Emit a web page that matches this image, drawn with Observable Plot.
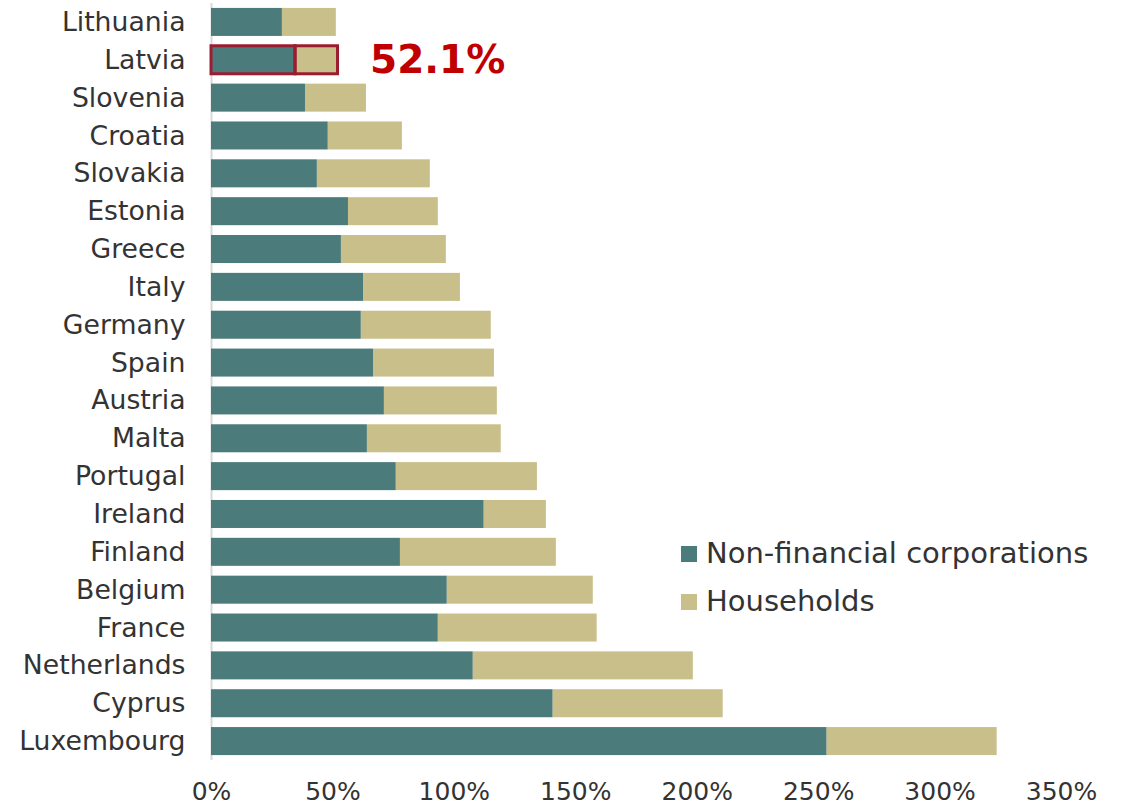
<!DOCTYPE html>
<html>
<head>
<meta charset="utf-8">
<script src="https://cdn.jsdelivr.net/npm/d3@7"></script>
<script src="https://cdn.jsdelivr.net/npm/@observablehq/plot@0.6"></script>
<style>
  html, body { margin: 0; padding: 0; background: #fff; }
  #wrap { position: relative; width: 1132px; height: 808px; font-family: "DejaVu Sans", Verdana, sans-serif; }
  #legend { position: absolute; left: 681px; top: 529px; font-size: 29px; color: #333; line-height: 48px; }
  #legend .sw { display: inline-block; width: 16px; height: 16px; margin-right: 9px; vertical-align: 1px; }
</style>
</head>
<body>
<div id="wrap">
  <div id="chart"></div>
  <div id="legend"></div>
</div>
<script>
const countries = ["Lithuania","Latvia","Slovenia","Croatia","Slovakia","Estonia","Greece","Italy","Germany","Spain","Austria","Malta","Portugal","Ireland","Finland","Belgium","France","Netherlands","Cyprus","Luxembourg"];
const nfc = [29.2, 34.6, 38.7, 48.1, 43.6, 56.4, 53.5, 62.6, 61.7, 66.7, 71.2, 64.2, 76.1, 112.3, 77.8, 97.1, 93.4, 107.8, 140.7, 253.5];
const total = [51.4, 52.1, 63.8, 78.6, 90.1, 93.4, 96.7, 102.5, 115.2, 116.5, 117.7, 119.3, 134.2, 137.9, 142.0, 157.2, 158.8, 198.4, 210.7, 323.5];
const seriesNames = ["Non-financial corporations", "Households"];
const seriesColors = ["#4b7b7a", "#c9bf8a"];
const xTicks = [0, 50, 100, 150, 200, 250, 300, 350];
const highlight = "Latvia";
const highlightLabel = "52.1%";

const rows = [];
countries.forEach((c, i) => {
  rows.push({country: c, series: seriesNames[0], value: nfc[i], order: 0});
  rows.push({country: c, series: seriesNames[1], value: +(total[i] - nfc[i]).toFixed(1), order: 1});
});
const hl = rows.filter(d => d.country === highlight);
const hlTotal = [{country: highlight, value: total[countries.indexOf(highlight)], label: highlightLabel}];

const chart = Plot.plot({
  width: 1132,
  height: 808,
  marginLeft: 211,
  marginRight: 71,
  marginTop: 3,
  marginBottom: 48,
  style: {fontFamily: "'DejaVu Sans', Verdana, sans-serif", fontSize: "26px", color: "#333", background: "#fff"},
  x: {domain: [0, 350], ticks: xTicks, tickFormat: d => d + "%", tickSize: 0, tickPadding: 22, label: null},
  y: {domain: countries, paddingInner: 0.26, paddingOuter: 0.13, round: false, tickSize: 0, tickPadding: 26, label: null},
  color: {domain: seriesNames, range: seriesColors},
  marks: [
    Plot.ruleX([0], {stroke: "#d9d9d9", strokeWidth: 2}),
    Plot.barX(rows, Plot.stackX({y: "country", x: "value", fill: "series", order: "order"})),
    Plot.barX(hl, Plot.stackX({y: "country", x: "value", order: "order", fill: "none", stroke: "#9b1b30", strokeWidth: 3})),
    Plot.text(hlTotal, {y: "country", x: "value", text: "label", textAnchor: "start", dx: 32, fill: "#c00000", fontSize: 39, fontWeight: "bold"}),
    Plot.axisX({ticks: xTicks, tickFormat: d => d + "%", tickSize: 0, tickPadding: 22, fontSize: 25, label: null}),
    Plot.axisY({tickSize: 0, tickPadding: 26, fontSize: 26.7, label: null})
  ]
});
document.getElementById("chart").appendChild(chart);

const legend = document.getElementById("legend");
seriesNames.forEach((s, i) => {
  const div = document.createElement("div");
  div.innerHTML = `<span class="sw" style="background:${seriesColors[i]}"></span>${s}`;
  legend.appendChild(div);
});
</script>
</body>
</html>
